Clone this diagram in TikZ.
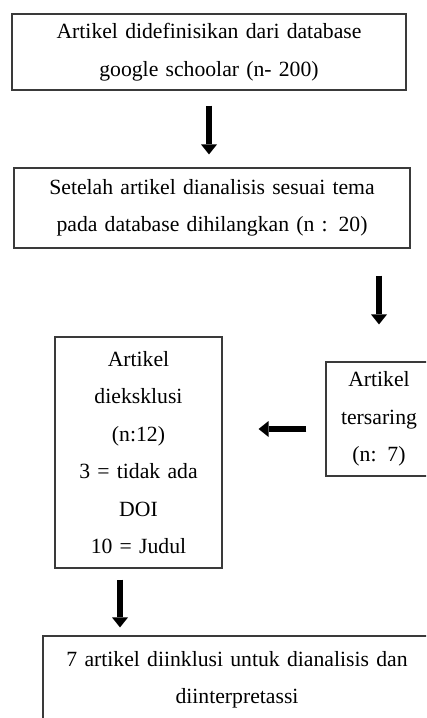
\documentclass[tikz,border=0pt]{standalone}
\usepackage{fontspec}
\setmainfont{Liberation Serif}
\usetikzlibrary{arrows.meta}
\definecolor{framegray}{HTML}{3A3A3A}
\tikzset{
  stepbox/.style={
    draw=framegray,
    line width=1.2pt,
    inner xsep=6pt,
    inner ysep=0pt,
    align=center,
    font=\fontsize{21.7pt}{37.5pt}\selectfont
  },
  arrow/.style={
    -{Triangle[length=10pt,width=16pt,line width=0pt]},
    line width=6.5pt,
    draw=black
  }
}

\begin{document}
\begin{tikzpicture}[x=1pt,y=1pt]
\useasboundingbox (0,0) rectangle (426,-718);
\clip (0,0) rectangle (426,-718);
\node[stepbox, text width=382pt, minimum height=76pt] (source) at (209,-52) {Artikel didefinisikan dari database\\google schoolar (n- 200)};
\node[stepbox, text width=384pt, minimum height=80pt] (screened) at (212,-208) {Setelah artikel dianalisis sesuai tema\\pada database dihilangkan (n : 20)};
\node[stepbox, text width=94pt, minimum height=114pt] (filtered) at (379,-419) {Artikel\\tersaring\\(n: 7)};
\node[stepbox, text width=155pt, minimum height=231pt] (excluded) at (138.5,-452.5) {Artikel\\dieksklusi\\(n:12)\\3 = tidak ada\\DOI\\10 = Judul};
\node[stepbox, text width=376pt, minimum height=88pt] (included) at (237,-680) {7 artikel diinklusi untuk dianalisis dan\\diinterpretassi};
\draw[arrow, shorten <=15pt, shorten >=13pt] (source.south) -- (source.south |- screened.north);
\draw[arrow, shorten <=27pt, shorten >=37pt] (screened.south -| filtered.north) -- (filtered.north);
\draw[arrow, shorten <=19pt, shorten >=36pt] ([yshift=-10pt]filtered.west) -- ([yshift=-10pt]filtered.west -| excluded.east);
\draw[arrow, shorten <=11pt, shorten >=8pt] ([xshift=-18.5pt]excluded.south) -- ([xshift=-18.5pt]excluded.south |- included.north);
\end{tikzpicture}
\end{document}
